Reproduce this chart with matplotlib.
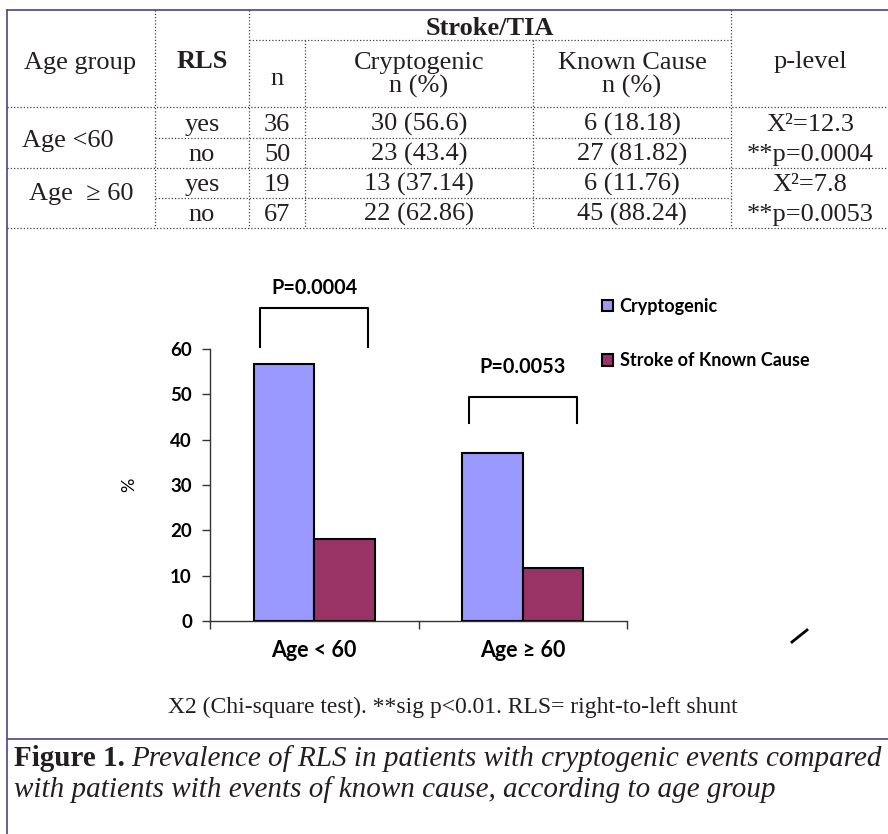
import matplotlib.pyplot as plt
from matplotlib.lines import Line2D
import numpy as np

# table values
age_groups = ['Age <60', 'Age  \u2265 60']
rls = ['yes', 'no', 'yes', 'no']
n_total = [36, 50, 19, 67]
crypt_n = [30, 23, 13, 22]
crypt_pct = [56.6, 43.4, 37.14, 62.86]
known_n = [6, 27, 6, 45]
known_pct = [18.18, 81.82, 11.76, 88.24]
chi2 = [12.3, 7.8]
p_level = ['0.0004', '0.0053']

# chart values (RLS = yes)
chart_groups = ['Age < 60', 'Age \u2265 60']
series_names = ['Cryptogenic', 'Stroke of Known Cause']
cryptogenic = [56.6, 37.14]
known_cause = [18.18, 11.76]
p_labels = ['P=0.0004', 'P=0.0053']
series_colors = ['#9999FF', '#993366']

W, H = 888, 834
fig = plt.figure(figsize=(W / 100, H / 100), dpi=100)

# page layer, pixel coordinates
pg = fig.add_axes([0, 0, 1, 1], zorder=0)
pg.set_xlim(0, W)
pg.set_ylim(H, 0)
pg.axis('off')

serif = 'Liberation Serif'
tc = '#231f20'
frame = '#5e4f8f'
dot = dict(color='#444444', lw=0.9, ls=(0, (1, 1.6)))

pg.plot([7, W], [10, 10], color=frame, lw=1.3)
pg.plot([7, 7], [10, H], color=frame, lw=1.3)
pg.plot([7, W], [739, 739], color=frame, lw=1.3)

for y in [107, 168, 228]:
    pg.plot([7, W], [y, y], **dot)
for y in [138, 198]:
    pg.plot([155, 731], [y, y], **dot)
pg.plot([249, 731], [40, 40], **dot)
for x, y0 in [(155, 10), (249, 10), (305, 40), (533, 40), (731, 10)]:
    pg.plot([x, x], [y0, 228], **dot)

ts = dict(family=serif, fontsize=19, color=tc, ha='center', va='baseline')
pg.text(80, 69, 'Age group', **ts)
pg.text(202, 68, 'RLS', fontweight='bold', **ts)
pg.text(277, 85, 'n', **ts)
pg.text(490, 35, 'Stroke/TIA', fontweight='bold', **ts)
pg.text(419, 69, 'Cryptogenic', **ts)
pg.text(419, 93, 'n (%)', **ts)
pg.text(632, 69, 'Known Cause', **ts)
pg.text(632, 93, 'n (%)', **ts)
pg.text(810, 68, 'p-level', **ts)

row_base = [131, 161, 191, 221]
for i in range(4):
    yb = row_base[i]
    pg.text(202, yb, rls[i], **ts)
    pg.text(277, yb, str(n_total[i]), **ts)
    pg.text(419, yb, f'{crypt_n[i]} ({crypt_pct[i]:g})', **ts)
    pg.text(632, yb, f'{known_n[i]} ({known_pct[i]:g})', **ts)
for j in range(2):
    pg.text(68 + 13 * j, [147, 200][j], age_groups[j], **ts)
    pg.text(810, row_base[2 * j], f'X\u00b2={chi2[j]}', **ts)
    pg.text(810, row_base[2 * j + 1], f'**p={p_level[j]}', **ts)

# bar chart
sans = ['Lato', 'DejaVu Sans']
ax = fig.add_axes([210 / W, 1 - 621 / H, 417 / W, 272 / H], zorder=2)
ax.patch.set_alpha(0)
x = np.arange(len(chart_groups))
bw = 0.29
b1 = ax.bar(x - bw / 2, cryptogenic, bw, color=series_colors[0],
            edgecolor='black', linewidth=1.5)
b2 = ax.bar(x + bw / 2, known_cause, bw, color=series_colors[1],
            edgecolor='black', linewidth=1.5)
ax.set_xlim(-0.5, 1.5)
ax.set_ylim(0, 60)
for s in ['top', 'right']:
    ax.spines[s].set_visible(False)
for s in ['left', 'bottom']:
    ax.spines[s].set_color('#333333')
    ax.spines[s].set_linewidth(1)

ax.set_yticks(range(0, 61, 10))
ax.tick_params(axis='y', length=6, width=1, color='#333333', pad=7)
ax.set_xticks(x)
ax.set_xticklabels(chart_groups)
ax.set_xticks([-0.5, 0.5, 1.5], minor=True)
ax.tick_params(axis='x', which='major', length=0, pad=14)
ax.tick_params(axis='x', which='minor', length=6, width=1, color='#333333')
for lab in ax.get_yticklabels():
    lab.set_fontfamily(sans)
    lab.set_fontweight('bold')
    lab.set_fontsize(13.5)
for lab in ax.get_xticklabels():
    lab.set_fontfamily(sans)
    lab.set_fontweight('bold')
    lab.set_fontsize(15.5)
ax.set_ylabel('%', family=sans, fontsize=13, labelpad=24)

# significance brackets
br_top = [69.0, 49.4]
br_bot = [60.4, 43.7]
txt_y = [73.5, 56.0]
for k in range(2):
    xs = [k - 0.26, k - 0.26, k + 0.26, k + 0.26]
    ys = [br_bot[k], br_top[k], br_top[k], br_bot[k]]
    ax.plot(xs, ys, color='black', lw=1.5, clip_on=False)
    ax.text(k, txt_y[k], p_labels[k], ha='center', va='center', family=sans,
            fontweight='bold', fontsize=14.3, clip_on=False)

ax.legend([b1, b2], series_names, loc='upper left',
          bbox_to_anchor=(602 / W, 1 - 298 / H), bbox_transform=fig.transFigure,
          frameon=False, borderpad=0, borderaxespad=0, handlelength=0.62,
          handleheight=0.62, handletextpad=0.35, labelspacing=2.05,
          prop=dict(family=sans, weight='bold', size=13))

# stray stroke from the original
fig.add_artist(Line2D([792 / W, 807 / W], [1 - 642 / H, 1 - 630 / H],
                      color='black', lw=2))

# notes
pg.text(453, 713, 'X2 (Chi-square test). **sig p<0.01. RLS= right-to-left shunt',
        family=serif, fontsize=17, color=tc, ha='center', va='baseline')
t1 = pg.text(14, 766, 'Figure 1.', family=serif, fontsize=21, fontweight='bold',
             color=tc, ha='left', va='baseline')
fig.canvas.draw()
inv = pg.transData.inverted()
x_after = inv.transform((t1.get_window_extent().x1, 0))[0] + 6
pg.text(x_after, 766, 'Prevalence of RLS in patients with cryptogenic events compared',
        family=serif, fontsize=21, style='italic', color=tc, ha='left', va='baseline')
pg.text(14, 797, 'with patients with events of known cause, according to age group',
        family=serif, fontsize=21, style='italic', color=tc, ha='left', va='baseline')

fig.savefig('out.png', dpi=100)
